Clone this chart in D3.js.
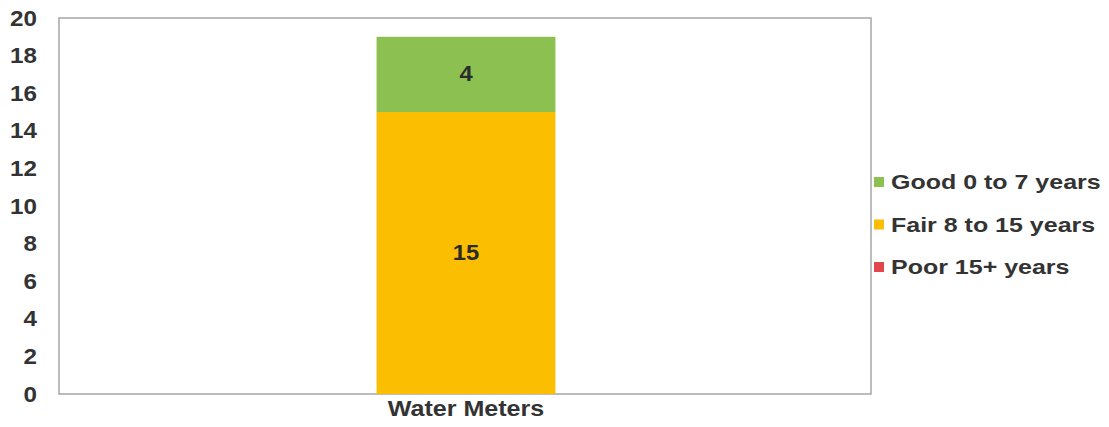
<!DOCTYPE html>
<html>
<head>
<meta charset="utf-8">
<script src="https://cdn.jsdelivr.net/npm/d3@7"></script>
<style>
  body { margin: 0; background: #fff; }
  svg { display: block; font-family: "Liberation Sans", Arial, sans-serif; }
</style>
</head>
<body>
<svg id="chart" width="1109" height="427"></svg>
<script>
// Asset counts by condition
const categories = ["Water Meters"];
const seriesNames = ["Good 0 to 7 years", "Fair 8 to 15 years", "Poor 15+ years"];
const good = [4];
const fair = [15];
const poor = [0];
const yTicks = [0, 2, 4, 6, 8, 10, 12, 14, 16, 18, 20];
const colors = ["#8cc152", "#fbbe00", "#e0474c"];

const svg = d3.select("#chart");
const m = { left: 59, right: 871, top: 18, bottom: 394 };
const FONT = "Liberation Sans, Arial, sans-serif";

// widen glyphs horizontally while keeping the text anchored at its x
function stretch(sel, sx) {
  sel.each(function () {
    const t = d3.select(this);
    const x0 = +t.attr("x") || 0;
    t.attr("transform", `translate(${x0 * (1 - sx)},0) scale(${sx},1)`);
  });
}

const x = d3.scaleBand().domain(categories).range([m.left, m.right])
  .paddingInner(0).paddingOuter(1.77);
const y = d3.scaleLinear().domain([0, 20]).range([m.bottom, m.top]);

// plot frame
svg.append("rect")
  .attr("x", m.left).attr("y", m.top)
  .attr("width", m.right - m.left).attr("height", m.bottom - m.top)
  .attr("fill", "#fff").attr("stroke", "#a6a6a6").attr("stroke-width", 1.5);

// stacked segments: fair at the bottom, good on top
const rows = categories.map((c, i) => ({ cat: c, fair: fair[i], good: good[i], poor: poor[i] }));
const stack = d3.stack().keys(["poor", "fair", "good"]);
const layers = stack(rows);
const colorOf = { good: colors[0], fair: colors[1], poor: colors[2] };

layers.forEach(layer => {
  const g = svg.append("g");
  layer.forEach(d => {
    const v = d[1] - d[0];
    if (v <= 0) return;
    g.append("rect")
      .attr("x", x(d.data.cat) + 1).attr("width", x.bandwidth())
      .attr("y", y(d[1])).attr("height", y(d[0]) - y(d[1]))
      .attr("fill", colorOf[layer.key]);
    const lbl = g.append("text")
      .attr("x", x(d.data.cat) + 1 + x.bandwidth() / 2)
      .attr("y", (y(d[0]) + y(d[1])) / 2 - 1)
      .attr("dy", "0.35em")
      .attr("text-anchor", "middle")
      .attr("font-size", 22).attr("font-weight", "bold").attr("fill", "#2b2b2b")
      .text(v);
    stretch(lbl, 1.08);
  });
});

// y axis labels
const yAxis = d3.axisLeft(y).tickValues(yTicks).tickSize(0).tickPadding(22);
const ya = svg.append("g").attr("transform", `translate(${m.left},0)`).call(yAxis);
ya.select(".domain").remove();
ya.selectAll("text").attr("font-size", 22).attr("font-weight", "bold")
  .attr("fill", "#333").attr("font-family", FONT).call(stretch, 1.1);

// x axis label
const xAxis = d3.axisBottom(x).tickSize(0).tickPadding(6);
const xa = svg.append("g").attr("transform", `translate(1,${m.bottom})`).call(xAxis);
xa.select(".domain").remove();
xa.selectAll("text").attr("font-size", 22).attr("font-weight", "bold")
  .attr("fill", "#333").attr("font-family", FONT).call(stretch, 1.14);

// legend
const legend = svg.append("g").attr("transform", "translate(874,182)");
seriesNames.forEach((name, i) => {
  const row = legend.append("g").attr("transform", `translate(0,${i * 42.5})`);
  row.append("rect").attr("x", 0).attr("y", -5).attr("width", 10).attr("height", 10)
    .attr("fill", colors[i]);
  row.append("text").attr("x", 17).attr("dy", "0.35em")
    .attr("font-size", 21).attr("font-weight", "bold").attr("fill", "#333")
    .text(name).call(stretch, 1.19);
});
</script>
</body>
</html>
